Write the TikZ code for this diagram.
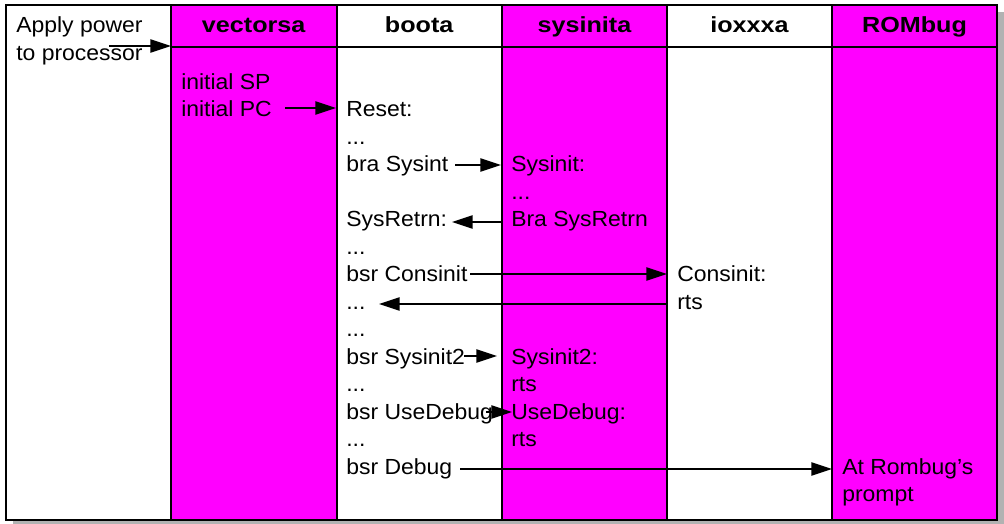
\documentclass[tikz,border=0pt]{standalone}
\usepackage{fontspec}
\setmainfont{Liberation Sans}[FakeStretch=1.05]
\newfontfamily\hdrfont{Liberation Sans}[FakeStretch=1.15]
\usetikzlibrary{arrows.meta}
\definecolor{mag}{RGB}{255,0,255}
\definecolor{shadowgray}{RGB}{178,178,178}
\begin{document}
\begin{tikzpicture}[x=0.75pt,y=-0.75pt,
  txt/.style={anchor=base west,inner sep=0pt,font=\fontsize{16.4}{19}\selectfont},
  hdr/.style={anchor=base,inner sep=0pt,font=\hdrfont\fontsize{16.4}{19}\selectfont\bfseries},
  rule/.style={line width=1.5pt,black},
  conn/.style={line width=1.1pt,-{Triangle[length=15.5pt,width=10pt]}}]
\useasboundingbox (0,0) rectangle (1004,524);
% shadow and frame
\fill[shadowgray] (13,12) rectangle (1004,524);
\fill[white] (6,5) rectangle (997,520);
\foreach \a/\b in {171/336.5,502/667,832/997}{
  \fill[mag] (\a,5) rectangle (\b,520);
}
\draw[rule] (6,5) rectangle (997,520);
\foreach \x in {171,336.5,502,667,832}{
  \draw[rule] (\x,5) -- (\x,520);
}
\draw[rule] (171,47) -- (997,47);
% headers
\node[hdr] (h1) at (253.7,33) {vectorsa};
\node[hdr] (h2) at (419.2,33) {boota};
\node[hdr] (h3) at (584.5,33) {sysinita};
\node[hdr] (h4) at (749.5,33) {ioxxxa};
\node[hdr] (h5) at (914.5,33) {ROMbug};
% column 0
\node[txt] (ap1) at (16,33) {Apply power};
\node[txt] (ap2) at (16,61) {to processor};
% vectorsa
\node[txt] (isp) at (181,90) {initial SP};
\node[txt] (ipc) at (181,117) {initial PC};
% boota
\node[txt] (b0) at (346,117) {Reset:};
\node[txt] (b1) at (346,144.5) {...};
\node[txt] (b2) at (346,172) {bra Sysint};
\node[txt] (b4) at (346,226.8) {SysRetrn:};
\node[txt] (b5) at (346,254.3) {...};
\node[txt] (b6) at (346,281.8) {bsr Consinit};
\node[txt] (b7) at (346,309.2) {...};
\node[txt] (b8) at (346,336.7) {...};
\node[txt] (b9) at (346,364) {bsr Sysinit2};
\node[txt] (b10) at (346,391.6) {...};
\node[txt] (b11) at (346,419) {bsr UseDebug};
\node[txt] (b12) at (346,446.5) {...};
\node[txt] (b13) at (346,474) {bsr Debug};
% sysinita
\node[txt] (s2) at (511,172) {Sysinit:};
\node[txt] (s3) at (511,199.4) {...};
\node[txt] (s4) at (511,226.8) {Bra SysRetrn};
\node[txt] (s9) at (511,364) {Sysinit2:};
\node[txt] (s10) at (511,391.6) {rts};
\node[txt] (s11) at (511,419) {UseDebug:};
\node[txt] (s12) at (511,446.5) {rts};
% ioxxxa
\node[txt] (i6) at (677,281.8) {Consinit:};
\node[txt] (i7) at (677,309.2) {rts};
% ROMbug
\node[txt] (r13) at (842,474) {At Rombug’s};
\node[txt] (r14) at (842,501.4) {prompt};
% connector end points
\coordinate (a1s) at (109,46);   \coordinate (a1e) at (171,46);
\coordinate (a2s) at (285,108);  \coordinate (a2e) at (336,108);
\coordinate (a3s) at (455,165);  \coordinate (a3e) at (501,165);
\coordinate (a4s) at (502,222);  \coordinate (a4e) at (452,222);
\coordinate (a5s) at (470,274);  \coordinate (a5e) at (667,274);
\coordinate (a6s) at (667,304);  \coordinate (a6e) at (379,304);
\coordinate (a7s) at (464,356);  \coordinate (a7e) at (497,356);
\coordinate (a8s) at (486,412);  \coordinate (a8e) at (512,412);
\coordinate (a9s) at (460,469);  \coordinate (a9e) at (832,469);
\foreach \n in {1,...,9}{
  \draw[conn] (a\n s) -- (a\n e);
}
\end{tikzpicture}
\end{document}
